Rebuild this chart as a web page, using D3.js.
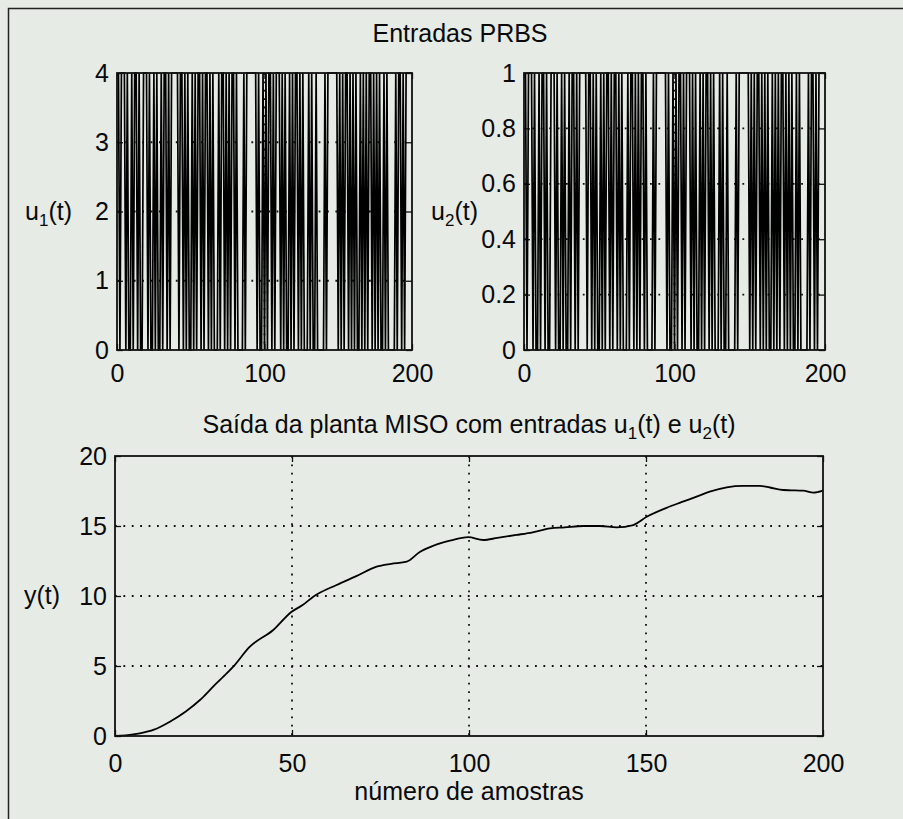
<!DOCTYPE html>
<html>
  <head>
    <meta charset="utf-8">
    <title>Entradas PRBS</title>
    <style media="screen">
    body{margin: 0; background: #e6ebe5}
    svg text {font-family: Arial, "Liberation Sans", sans-serif; fill: #0a0a0a}
    </style>
  </head>
  <body>
    <script src="https://d3js.org/d3.v7.min.js"></script>
    <script type="text/javascript">
      // PRBS bit sequence (same pattern on both inputs), 200 samples
      var prbsBits = [
        "10111", "010010110100", "111", "0100101001011010", "11111",
        "011010100101011", "0101101010001011010101101", "0000", "10", "1111111",
        "01001010110101110101001010110101000101001", "00000", "10", "1111111", "0",
        "101011010101001010101101010100101", "00000", "1011010", "11111"
      ].join('')
      var u1Level = 4, u2Level = 1

      // output y(t)
      var yT = [0, 3, 7, 11, 15.5, 20, 24, 28, 33.4, 38.1, 44.7, 49.9, 53, 56, 62.6, 68, 73.9, 78, 82.4, 86.2, 90, 94.6,
        99.8, 104, 108, 113.4, 118, 122.9, 127, 132.3, 137, 141.7, 146.4, 150.2, 155.8, 160, 164.3, 168, 172.8, 177.5,
        182.2, 185, 188.8, 191, 194.4, 197.3, 200]
      var yVal = [0, 0.05, 0.19, 0.45, 1.02, 1.75, 2.57, 3.6, 4.95, 6.38, 7.57, 8.88, 9.35, 9.95, 10.79, 11.4, 12.1, 12.3, 12.45, 13.16, 13.6, 13.95,
        14.2, 14.0, 14.15, 14.36, 14.55, 14.83, 14.9, 15.0, 15.0, 14.9, 15.07, 15.66, 16.3, 16.7, 17.1, 17.45, 17.76, 17.86,
        17.86, 17.75, 17.57, 17.55, 17.52, 17.38, 17.52]

      var u1Ticks = [0, 1, 2, 3, 4]
      var u2Ticks = [0, 0.2, 0.4, 0.6, 0.8, 1]
      var topXTicks = [0, 100, 200]
      var yTicks = [0, 5, 10, 15, 20]
      var bottomXTicks = [0, 50, 100, 150, 200]

      var w = 903, h = 819

      var svg = d3.select('body').append('svg')
        .attr('width', w)
        .attr('height', h)

      // page frame
      svg.append('rect')
        .attr('x', 8.5).attr('y', 8.5)
        .attr('width', 1000).attr('height', 1000)
        .attr('fill', 'none').attr('stroke', '#222').attr('stroke-width', 1.5)

      function panel(box, xDom, yDom, xTicks, yTicksArr, xPad){
        var x = d3.scaleLinear().domain(xDom).range([box.x0, box.x1])
        var y = d3.scaleLinear().domain(yDom).range([box.y1, box.y0])
        var g = svg.append('g')

        // dotted grid
        xTicks.slice(1, -1).forEach(function(t){
          g.append('line')
            .attr('x1', x(t)).attr('x2', x(t)).attr('y1', box.y0).attr('y2', box.y1)
            .attr('stroke', '#111').attr('stroke-width', 1.8).attr('stroke-dasharray', '1.8,6.6')
        })
        yTicksArr.slice(1, -1).forEach(function(t){
          g.append('line')
            .attr('x1', box.x0).attr('x2', box.x1).attr('y1', y(t)).attr('y2', y(t))
            .attr('stroke', '#111').attr('stroke-width', 1.8).attr('stroke-dasharray', '1.8,6.6')
        })

        var fmt = function(d){ return d3.format('~g')(d) }

        g.append('g').attr('transform', 'translate(0,' + box.y1 + ')')
          .call(d3.axisBottom(x).tickValues(xTicks).tickSize(-6).tickPadding(xPad).tickFormat(fmt))
        g.append('g').attr('transform', 'translate(0,' + box.y0 + ')')
          .call(d3.axisTop(x).tickValues(xTicks).tickSize(-6).tickFormat(''))
        g.append('g').attr('transform', 'translate(' + box.x0 + ',0)')
          .call(d3.axisLeft(y).tickValues(yTicksArr).tickSize(-6).tickPadding(8).tickFormat(fmt))
        g.append('g').attr('transform', 'translate(' + box.x1 + ',0)')
          .call(d3.axisRight(y).tickValues(yTicksArr).tickSize(-6).tickFormat(''))

        g.selectAll('.domain').remove()
        g.selectAll('.tick line').attr('stroke', '#111').attr('stroke-width', 1.3)
        g.selectAll('.tick text').attr('font-size', 25).attr('fill', '#0a0a0a')
          .style('font-family', 'Arial, "Liberation Sans", sans-serif')

        return {x: x, y: y, g: g}
      }

      function box(p, b){
        p.g.append('rect')
          .attr('x', b.x0).attr('y', b.y0)
          .attr('width', b.x1 - b.x0).attr('height', b.y1 - b.y0)
          .attr('fill', 'none').attr('stroke', '#111').attr('stroke-width', 1.8)
      }

      function subLabel(x, y, base, sub, rest, anchor){
        var t = svg.append('text').attr('x', x).attr('y', y)
          .attr('font-size', 25).attr('text-anchor', anchor || 'middle')
        t.append('tspan').text(base)
        t.append('tspan').attr('font-size', 17).attr('dy', 6).text(sub)
        t.append('tspan').attr('dy', -6).text(rest)
        return t
      }

      // PRBS panels
      var bits = prbsBits.split('').map(Number)
      var box1 = {x0: 117, x1: 412, y0: 73, y1: 350}
      var box2 = {x0: 524, x1: 825, y0: 73, y1: 350}

      var p1 = panel(box1, [0, 200], [0, 4], topXTicks, u1Ticks, 14)
      p1.g.append('path')
        .datum(bits)
        .attr('fill', 'none').attr('stroke', '#000').attr('stroke-width', 1.7)
        .attr('d', d3.line()
          .x(function(d, i){ return p1.x(i + 1) })
          .y(function(d){ return p1.y(d * u1Level) }))
      box(p1, box1)

      var p2 = panel(box2, [0, 200], [0, 1], topXTicks, u2Ticks, 14)
      p2.g.append('path')
        .datum(bits)
        .attr('fill', 'none').attr('stroke', '#000').attr('stroke-width', 1.7)
        .attr('d', d3.line()
          .x(function(d, i){ return p2.x(i + 1) })
          .y(function(d){ return p2.y(d * u2Level) }))
      box(p2, box2)

      // output panel
      var box3 = {x0: 115, x1: 823, y0: 456, y1: 736}
      var p3 = panel(box3, [0, 200], [0, 20], bottomXTicks, yTicks, 18)
      p3.g.append('path')
        .datum(yT)
        .attr('fill', 'none').attr('stroke', '#000').attr('stroke-width', 1.8)
        .attr('stroke-linejoin', 'round')
        .attr('d', d3.line()
          .curve(d3.curveMonotoneX)
          .x(function(d){ return p3.x(d) })
          .y(function(d, i){ return p3.y(yVal[i]) }))
      box(p3, box3)

      // texts
      svg.append('text').attr('x', 460).attr('y', 42)
        .attr('font-size', 25).attr('text-anchor', 'middle').text('Entradas PRBS')

      var st = svg.append('text').attr('x', 469).attr('y', 433)
        .attr('font-size', 25).attr('text-anchor', 'middle')
      st.append('tspan').text('Saída da planta MISO com entradas u')
      st.append('tspan').attr('font-size', 17).attr('dy', 6).text('1')
      st.append('tspan').attr('dy', -6).text('(t) e u')
      st.append('tspan').attr('font-size', 17).attr('dy', 6).text('2')
      st.append('tspan').attr('dy', -6).text('(t)')

      svg.append('text').attr('x', 469).attr('y', 800)
        .attr('font-size', 25).attr('text-anchor', 'middle').text('número de amostras')

      subLabel(72, 220, 'u', '1', '(t)', 'end')
      subLabel(478, 220, 'u', '2', '(t)', 'end')
      svg.append('text').attr('x', 60).attr('y', 604)
        .attr('font-size', 25).attr('text-anchor', 'end').text('y(t)')
    </script>
  </body>
</html>
